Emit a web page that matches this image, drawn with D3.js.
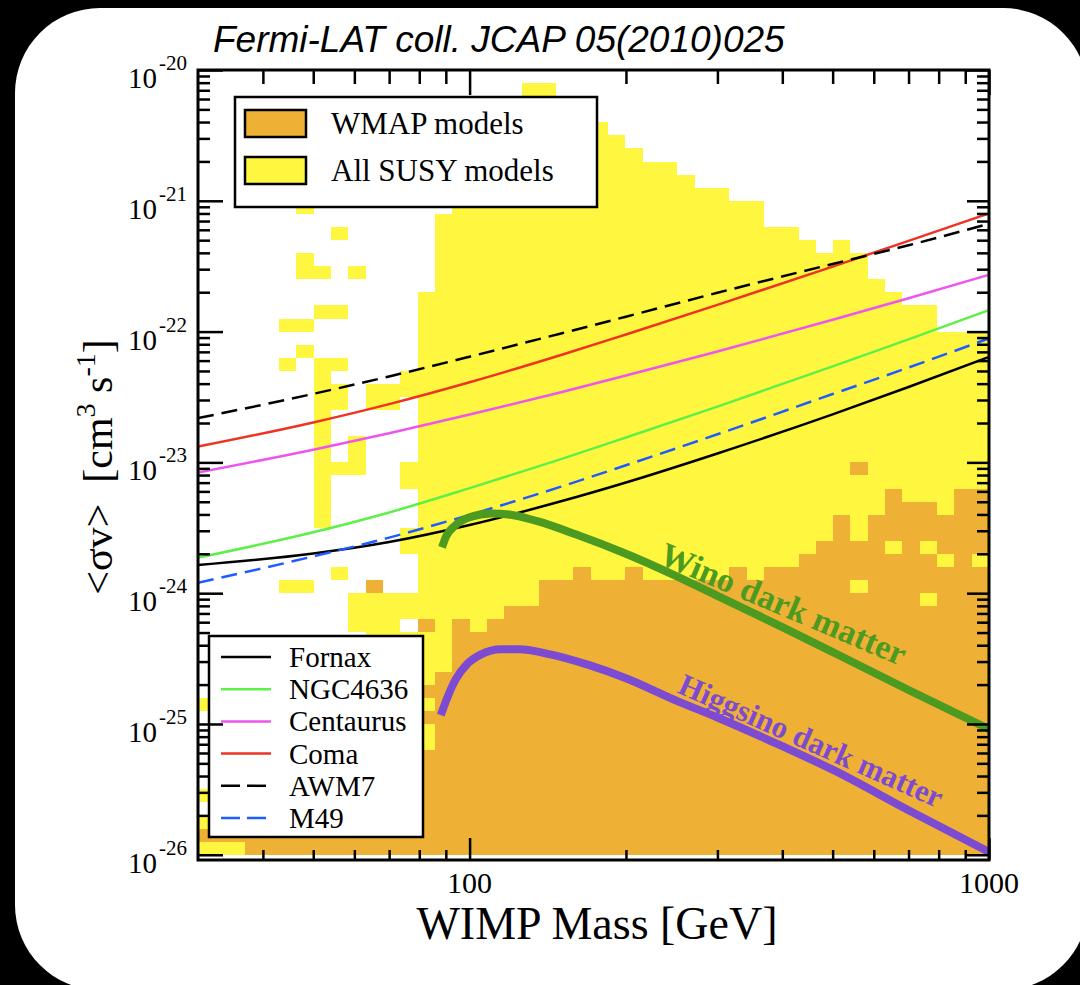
<!DOCTYPE html>
<html>
<head>
<meta charset="utf-8">
<script src="https://cdn.jsdelivr.net/npm/d3@7"></script>
<style>
  html, body { margin: 0; padding: 0; background: #000; }
  svg { display: block; }
  text { font-family: 'Liberation Serif', 'Times New Roman', serif; fill: #000; }
</style>
</head>
<body>
<div id="graf"></div>
<script>
// I. Datos

// Mallado de modelos SUSY: 30 columnas por decada de masa, 10 filas por decada de <sv>.
// Y = todos los modelos SUSY, W = modelos compatibles con WMAP. Fila de arriba = bin -20.1..-20.0
const massBinStart = 2 - 16 / 30
const massBinWidth = 1 / 30
const sigmaBinWidth = 0.1
const sigmaBinTop = 59
const modelGrid = [
  '.......... .......... .......... .......... ......',
  '.......... .........Y Y......... .......... ......',
  '.......... .........Y Y......... .......... ......',
  '.......... .........Y YYY....... .......... ......',
  '.......... .....YYYYY YYYY...... .......... ......',
  '.......... .....YYYYY YYYYY..... .......... ......',
  '.......... .....YYYYY YYYYYY.... .......... ......',
  '.......... .....YYYYY YYYYYYYY.. .......... ......',
  '.......... .....YYYYY YYYYYYYYY. .......... ......',
  '.......... .....YYYYY YYYYYYYYYY Y......... ......',
  '......Y... .....YYYYY YYYYYYYYYY YYY....... ......',
  '.......... ....YYYYYY YYYYYYYYYY YYY....... ......',
  '........Y. ....YYYYYY YYYYYYYYYY YYYYY..... ......',
  '.......... ....YYYYYY YYYYYYYYYY YYYYYY.Y.. ......',
  '......Y... ....YYYYYY YYYYYYYYYY YYYYYYYYY. ......',
  '......YY.Y ....YYYYYY YYYYYYYYYY YYYYYYYYY. ......',
  '.......... ....YYYYYY YYYYYYYYYY YYYYYYYYYY ......',
  '.......... ...YYYYYYY YYYYYYYYYY YYYYYYYYYY Y.....',
  '.......YY. ...YYYYYYY YYYYYYYYYY YYYYYYYYYY YYY...',
  '.....YY... ...YYYYYYY YYYYYYYYYY YYYYYYYYYY YYY...',
  '.......... ...YYYYYYY YYYYYYYYYY YYYYYYYYYY YYYYYY',
  '......Y... ...YYYYYYY YYYYYYYYYY YYYYYYYYYY YYYYYY',
  '.....Y.YY. ...YYYYYYY YYYYYYYYYY YYYYYYYYYY YYYYYY',
  '.......Y.. ..YYYYYYYY YYYYYYYYYY YYYYYYYYYY YYYYYY',
  '.......YY. YYYYYYYYYY YYYYYYYYYY YYYYYYYYYY YYYYYY',
  '.......YY. YY.YYYYYYY YYYYYYYYYY YYYYYYYYYY YYYYYY',
  '.......Y.. ...YYYYYYY YYYYYYYYYY YYYYYYYYYY YYYYYY',
  '.......Y.. ...YYYYYYY YYYYYYYYYY YYYYYYYYYY YYYYYY',
  '.......Y.Y ...YYYYYYY YYYYYYYYYY YYYYYYYYYY YYYYYY',
  '.......Y.Y ...YYYYYYY YYYYYYYYYY YYYYYYYYYY YYYYYY',
  '.......YYY ..YYYYYYYY YYYYYYYYYY YYYYYYYYWY YYYYYY',
  '.......Y.. ..YYYYYYYY YYYYYYYYYY YYYYYYYYYY YYYYYY',
  '.......Y.. ...YYYYYYY YYYYYYYYYY YYYYYYYYYY WYYYWW',
  '.......Y.. ...YYYYYYY YYYYYYYYYY YYYYYYYYYY WWWYWW',
  '.......Y.. ...YYYYYYY YYYYYYYYYY YYYYYYYWYW WWWWWW',
  '.......... ..YYYYYYYY YYYYYYYYYY YYYYYYYWYW WWWWWW',
  '.......... ..YYYYYYYY YYYYYYYYYY YYYYYYWWWW YWYWWW',
  '.......... ...YYYYYYY YYYYYYYYYY YYYYYWWWWW WWWYWY',
  '........Y. ...YYYYYYY YYWYYWYYYY YWYWWWWWWW WWWWWW',
  '.....YY... W..YYYYYYY WWWWWWWWWW WWWWWWWWYW WWWWWW',
  '.........Y YYYYYYYYYY WWWWWWWWWW WWWWWWWWWW WWYWWW',
  '.........Y YYYYYYYYWW WWWWWWWWWW WWWWWWWWWW WWWWWW',
  '.........Y YY.WYWYWWW WWWWWWWWWW WWWWWWWWWW WWWWWW',
  '.......... YYYYYWWWWW WWWWWWWWWW WWWWWWWWWW WWWWWW',
  '.......... ...YYWWWWW WWWWWWWWWW WWWWWWWWWW WWWWWW',
  '.......... ...YYWWWWW WWWWWWWWWW WWWWWWWWWW WWWWWW',
  '.......... ...YWWWWWW WWWWWWWWWW WWWWWWWWWW WWWWWW',
  '.......... ...WWWWWWW WWWWWWWWWW WWWWWWWWWW WWWWWW',
  'Y......... ...YWWWWWW WWWWWWWWWW WWWWWWWWWW WWWWWW',
  '.......... ...WWWWWWW WWWWWWWWWW WWWWWWWWWW WWWWWW',
  '.......... ...YWWWWWW WWWWWWWWWW WWWWWWWWWW WWWWWW',
  '.......... ...YWWWWWW WWWWWWWWWW WWWWWWWWWW WWWWWW',
  '.......... ...WWWWWWW WWWWWWWWWW WWWWWWWWWW WWWWWW',
  '.......... ...WWWWWWW WWWWWWWWWW WWWWWWWWWW WWWWWW',
  '.......... ...WWWWWWW WWWWWWWWWW WWWWWWWWWW WWWWWW',
  'Y......... ...WWWWWWW WWWWWWWWWW WWWWWWWWWW WWWWWW',
  '.......... ...WWWWWWW WWWWWWWWWW WWWWWWWWWW WWWWWW',
  'Y......... ...WWWWWWW WWWWWWWWWW WWWWWWWWWW WWWWWW',
  'WWWWWWWWWW WWWWWWWWWW WWWWWWWWWW WWWWWWWWWW WWWWWW',
  'YYYWWWWWWW WWWWWWWWWW WWWWWWWWWW WWWWWWWWWW WWWWWW'
]

// Limites de los cumulos de galaxias (GeV, cm^3 s^-1)
const clusterMass = [30, 50, 70, 100, 150, 200, 300, 500, 700, 1000]
const fornaxSigma = [1.64e-24, 2.01e-24, 2.46e-24, 3.32e-24, 5.04e-24, 7.02e-24, 1.17e-23, 2.33e-23, 3.77e-23, 6.40e-23]
const ngc4636Sigma = [1.87e-24, 2.92e-24, 4.14e-24, 6.35e-24, 1.06e-23, 1.55e-23, 2.67e-23, 5.42e-23, 8.71e-23, 1.46e-22]
const centaurusSigma = [8.37e-24, 1.25e-23, 1.67e-23, 2.32e-23, 3.44e-23, 4.61e-23, 7.04e-23, 1.23e-22, 1.80e-22, 2.72e-22]
const comaSigma = [1.32e-23, 2.02e-23, 2.79e-23, 4.10e-23, 6.63e-23, 9.51e-23, 1.60e-22, 3.14e-22, 4.94e-22, 8.02e-22]
const awm7Sigma = [2.18e-23, 3.34e-23, 4.54e-23, 6.43e-23, 9.68e-23, 1.30e-22, 1.98e-22, 3.29e-22, 4.57e-22, 6.68e-22]
const m49Sigma = [1.20e-24, 1.91e-24, 2.66e-24, 3.97e-24, 6.52e-24, 9.51e-24, 1.64e-23, 3.33e-23, 5.31e-23, 8.88e-23]

// Wino y Higgsino
const winoMass = [88.5, 90, 94, 100, 110, 120, 135, 160, 200, 250, 300, 400, 500, 700, 1000]
const winoSigma = [2.24e-24, 2.69e-24, 3.31e-24, 3.80e-24, 4.07e-24, 3.98e-24, 3.55e-24, 2.82e-24, 2.00e-24, 1.35e-24, 9.55e-25, 5.50e-25, 3.55e-25, 1.82e-25, 9.12e-26]
const higgsinoMass = [88, 91, 94, 99, 105, 115, 125, 140, 170, 200, 250, 300, 400, 500, 700, 1000]
const higgsinoSigma = [1.17e-25, 1.66e-25, 2.19e-25, 2.88e-25, 3.39e-25, 3.72e-25, 3.72e-25, 3.47e-25, 2.82e-25, 2.24e-25, 1.51e-25, 1.12e-25, 6.76e-26, 4.47e-26, 2.19e-26, 1.05e-26]

const modelLegend = ['WMAP models', 'All SUSY models']
const clusterNames = ['Fornax', 'NGC4636', 'Centaurus', 'Coma', 'AWM7', 'M49']

const massTicksMajor = [100, 1000]
const massTicksMinor = [40, 50, 60, 70, 80, 90, 200, 300, 400, 500, 600, 700, 800, 900]
const massTickLabels = ['100', '1000']
const sigmaDecades = [-26, -25, -24, -23, -22, -21, -20]
const minorMantissas = [2, 3, 4, 5, 6, 7, 8, 9]

// II. Configuracion
const ancho = 1080, alto = 985
const plot = { left: 198, right: 989, top: 70, bottom: 860 }

const colors = {
  Y: '#fff73f', W: '#efb135',
  Fornax: '#000', NGC4636: '#5cf048', Centaurus: '#ee55ee', Coma: '#ee3322', AWM7: '#000', M49: '#1f5cff',
  wino: '#4d9a21', higgsino: '#7c4bd2'
}
const dashes = { AWM7: '16,8', M49: '16,8' }

const svg = d3.select('#graf').append('svg')
  .attr('width', ancho).attr('height', alto)

svg.append('rect').attr('width', ancho).attr('height', alto).attr('fill', '#000')
svg.append('rect')
  .attr('x', 15).attr('y', 8).attr('width', 1073).attr('height', 982)
  .attr('rx', 85).attr('fill', '#fff')

const x = d3.scaleLog().domain([30, 1000]).range([plot.left, plot.right])
const y = d3.scaleLog().domain([Math.pow(10, -26.04), 1e-20]).range([plot.bottom, plot.top])

svg.append('clipPath').attr('id', 'area')
  .append('rect')
  .attr('x', plot.left).attr('y', plot.top)
  .attr('width', plot.right - plot.left).attr('height', plot.bottom - plot.top)

const g = svg.append('g').attr('clip-path', 'url(#area)')

// III. Celdas de modelos
const cells = []
modelGrid.forEach((row, r) => {
  row.replace(/ /g, '').split('').forEach((ch, c) => {
    if (ch === '.') return
    cells.push({ c, j: sigmaBinTop - r, tipo: ch })
  })
})

const massEdge = c => Math.pow(10, massBinStart + c * massBinWidth)
const sigmaEdge = j => Math.pow(10, -26 + j * sigmaBinWidth)

g.selectAll('rect.celda')
  .data(cells)
  .enter()
  .append('rect')
    .attr('class', 'celda')
    .attr('x', d => x(massEdge(d.c)))
    .attr('width', d => x(massEdge(d.c + 1)) - x(massEdge(d.c)))
    .attr('y', d => y(sigmaEdge(d.j + 1)))
    .attr('height', d => y(sigmaEdge(d.j)) - y(sigmaEdge(d.j + 1)))
    .attr('fill', d => colors[d.tipo])
    .attr('shape-rendering', 'crispEdges')

// IV. Curvas
const linea = d3.line()
  .x(d => x(d[0]))
  .y(d => y(d[1]))
  .curve(d3.curveMonotoneX)

const clusters = [
  { name: 'Fornax', sigma: fornaxSigma },
  { name: 'NGC4636', sigma: ngc4636Sigma },
  { name: 'Centaurus', sigma: centaurusSigma },
  { name: 'Coma', sigma: comaSigma },
  { name: 'AWM7', sigma: awm7Sigma },
  { name: 'M49', sigma: m49Sigma }
]

const drawOrder = ['Centaurus', 'NGC4636', 'Coma', 'AWM7', 'Fornax', 'M49']
drawOrder.forEach(n => {
  const cl = clusters.find(k => k.name === n)
  g.append('path')
    .datum(clusterMass.map((m, i) => [m, cl.sigma[i]]))
    .attr('d', linea)
    .attr('fill', 'none')
    .attr('stroke', colors[n])
    .attr('stroke-width', 2.5)
    .attr('stroke-dasharray', dashes[n] || null)
})

g.append('path')
  .datum(winoMass.map((m, i) => [m, winoSigma[i]]))
  .attr('d', linea)
  .attr('fill', 'none')
  .attr('stroke', colors.wino)
  .attr('stroke-width', 8)

g.append('path')
  .datum(higgsinoMass.map((m, i) => [m, higgsinoSigma[i]]))
  .attr('d', linea)
  .attr('fill', 'none')
  .attr('stroke', colors.higgsino)
  .attr('stroke-width', 8)

g.append('text')
  .attr('transform', `translate(${x(230)}, ${y(1.70e-24)}) rotate(23)`)
  .style('font-size', '34px').style('font-weight', 'bold')
  .style('fill', colors.wino)
  .text('Wino dark matter')

g.append('text')
  .attr('transform', `translate(${x(250)}, ${y(1.75e-25)}) rotate(24)`)
  .style('font-size', '31px').style('font-weight', 'bold')
  .style('fill', colors.higgsino)
  .text('Higgsino dark matter')

// V. Leyendas
const leg1 = svg.append('g')
leg1.append('rect')
  .attr('x', 235).attr('y', 97).attr('width', 362).attr('height', 110)
  .attr('fill', '#fff').attr('stroke', '#000').attr('stroke-width', 2.5)
modelLegend.forEach((t, i) => {
  leg1.append('rect')
    .attr('x', 245).attr('y', 110 + i * 47).attr('width', 61).attr('height', 27)
    .attr('fill', i === 0 ? colors.W : colors.Y)
    .attr('stroke', '#000').attr('stroke-width', 2.5)
  leg1.append('text')
    .attr('x', 331).attr('y', 134 + i * 47)
    .style('font-size', '31px')
    .text(t)
})

const leg2 = svg.append('g')
leg2.append('rect')
  .attr('x', 209).attr('y', 636).attr('width', 214).attr('height', 201)
  .attr('fill', '#fff').attr('stroke', '#000').attr('stroke-width', 2.5)
clusterNames.forEach((n, i) => {
  const ly = 657 + i * 32.2
  leg2.append('line')
    .attr('x1', 221).attr('x2', 271).attr('y1', ly).attr('y2', ly)
    .attr('stroke', colors[n]).attr('stroke-width', 2.5)
    .attr('stroke-dasharray', dashes[n] ? '19,7' : null)
  leg2.append('text')
    .attr('x', 289).attr('y', ly + 10)
    .style('font-size', '29px')
    .text(n)
})

// VI. Ejes
const sigmaMajor = sigmaDecades.map(e => Math.pow(10, e))
const sigmaMinor = []
sigmaDecades.slice(0, -1).forEach(e => minorMantissas.forEach(k => sigmaMinor.push(k * Math.pow(10, e))))

function ejes(axis, tr, valores, largo) {
  const a = svg.append('g')
    .attr('transform', tr)
    .call(axis.tickValues(valores).tickSizeInner(-largo).tickSizeOuter(0).tickFormat(''))
  a.select('.domain').remove()
  a.selectAll('line').attr('stroke', '#000').attr('stroke-width', 2.5)
}

ejes(d3.axisBottom(x), `translate(0, ${plot.bottom})`, massTicksMinor, 10)
ejes(d3.axisBottom(x), `translate(0, ${plot.bottom})`, massTicksMajor, 22)
ejes(d3.axisTop(x), `translate(0, ${plot.top})`, massTicksMinor, 14)
ejes(d3.axisTop(x), `translate(0, ${plot.top})`, massTicksMajor, 25)
ejes(d3.axisLeft(y), `translate(${plot.left}, 0)`, sigmaMinor, 12)
ejes(d3.axisLeft(y), `translate(${plot.left}, 0)`, sigmaMajor, 25)
ejes(d3.axisRight(y), `translate(${plot.right}, 0)`, sigmaMinor, 12)
ejes(d3.axisRight(y), `translate(${plot.right}, 0)`, sigmaMajor, 22)

svg.append('rect')
  .attr('x', plot.left).attr('y', plot.top)
  .attr('width', plot.right - plot.left).attr('height', plot.bottom - plot.top)
  .attr('fill', 'none').attr('stroke', '#000').attr('stroke-width', 3)

// etiquetas
sigmaDecades.forEach(e => {
  const ty = y(Math.pow(10, e))
  svg.append('text')
    .attr('x', 157).attr('y', ty + 18)
    .attr('text-anchor', 'end')
    .style('font-size', '29px')
    .text('10')
  svg.append('text')
    .attr('x', 159).attr('y', ty)
    .style('font-size', '21px')
    .text(String(e))
})

massTicksMajor.forEach((m, i) => {
  svg.append('text')
    .attr('x', x(m)).attr('y', 893)
    .attr('text-anchor', 'middle')
    .style('font-size', '30px')
    .text(massTickLabels[i])
})

svg.append('text')
  .attr('x', 597).attr('y', 939)
  .attr('text-anchor', 'middle')
  .style('font-size', '46px')
  .text('WIMP Mass [GeV]')

const yt = svg.append('text')
  .attr('transform', 'translate(112, 467) rotate(-90)')
  .attr('text-anchor', 'middle')
  .style('font-size', '42px')
  .style('white-space', 'pre')
yt.append('tspan').text('<σv>  [cm')
yt.append('tspan').attr('dy', -17).style('font-size', '28px').text('3')
yt.append('tspan').attr('dy', 17).text(' s')
yt.append('tspan').attr('dy', -17).style('font-size', '28px').text('-1')
yt.append('tspan').attr('dy', 17).text(']')

svg.append('text')
  .attr('x', 213).attr('y', 52)
  .style('font-family', "'Liberation Sans', Arial, sans-serif")
  .style('font-style', 'italic')
  .style('font-size', '37px')
  .text('Fermi-LAT coll. JCAP 05(2010)025')
</script>
</body>
</html>
